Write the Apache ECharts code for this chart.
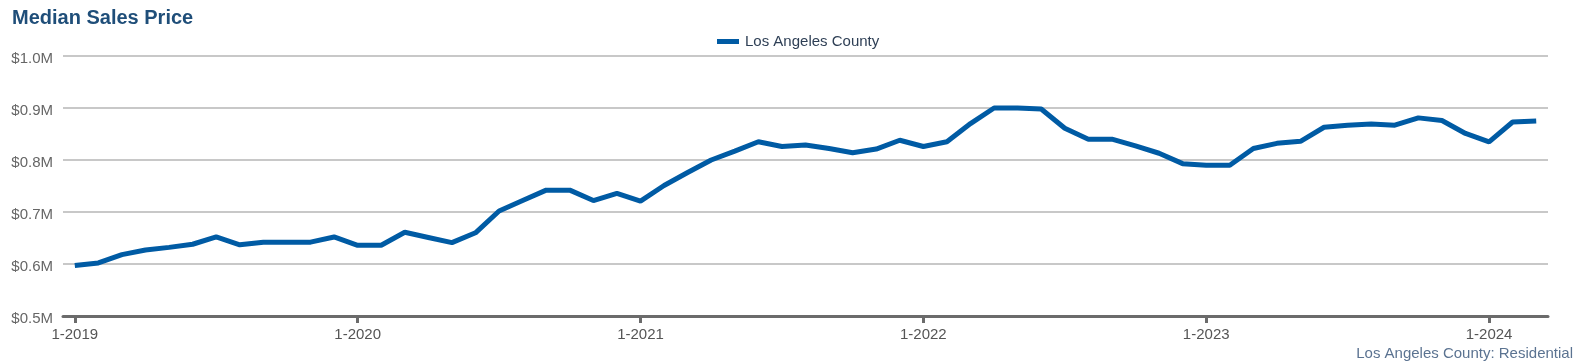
<!DOCTYPE html>
<html>
<head>
<meta charset="utf-8">
<script src="https://cdn.jsdelivr.net/npm/echarts@6/dist/echarts.min.js"></script>
<style>
html,body{margin:0;padding:0;background:#fff;}
#chart{width:1578px;height:363px;}
</style>
</head>
<body>
<div id="chart"></div>
<script>
const startYear = 2019;
const months = [];
for (let i = 0; i < 63; i++) {
  const y = startYear + Math.floor(i / 12);
  const m = (i % 12) + 1;
  months.push(m + '-' + y);
}
// Median sales price, millions of dollars
const medianPrice = [
  0.597, 0.602, 0.618, 0.627, 0.632, 0.638, 0.652, 0.637, 0.642, 0.642, 0.642, 0.652,
  0.636, 0.636, 0.661, 0.651, 0.641, 0.660, 0.702, 0.722, 0.742, 0.742, 0.722, 0.736,
  0.721, 0.751, 0.776, 0.800, 0.817, 0.835, 0.826, 0.829, 0.822, 0.814, 0.821, 0.838,
  0.826, 0.835, 0.870, 0.900, 0.900, 0.898, 0.861, 0.840, 0.840, 0.827, 0.813, 0.793,
  0.790, 0.790, 0.822, 0.832, 0.836, 0.863, 0.867, 0.869, 0.867, 0.881, 0.876, 0.851,
  0.835, 0.873, 0.875
];
const seriesName = 'Los Angeles County';
const titleText = 'Median Sales Price';
const footnote = 'Los Angeles County: Residential';
const FONT = 'Liberation Sans, Arial, sans-serif';

const chart = echarts.init(document.getElementById('chart'), null, {renderer: 'canvas'});
chart.setOption({
  animation: false,
  textStyle: {fontFamily: FONT},
  title: [{
    text: titleText,
    left: 7, top: 3,
    textStyle: {fontSize: 20, fontWeight: 'bold', color: '#1f4e79', fontFamily: FONT}
  }, {
    text: footnote,
    right: 0, bottom: -3,
    textStyle: {fontSize: 15, fontWeight: 'normal', color: '#5b7391', fontFamily: FONT}
  }],
  legend: {
    data: [seriesName],
    top: 29, left: 712,
    icon: 'rect', itemWidth: 22, itemHeight: 5, itemGap: 10,
    textStyle: {fontSize: 15, color: '#2e3f55', fontFamily: FONT, padding: [0, 0, 0, 1]}
  },
  grid: {left: 63, right: 30, top: 56, bottom: 47, containLabel: false},
  xAxis: {
    type: 'category',
    data: months,
    boundaryGap: true,
    axisLine: {show: true, lineStyle: {color: '#6b6b6b', width: 3}},
    axisTick: {show: true, alignWithLabel: true, interval: 11, length: 7, lineStyle: {color: '#6b6b6b', width: 3}},
    axisLabel: {interval: 11, color: '#555', fontSize: 15, margin: 11},
    splitLine: {show: false}
  },
  yAxis: {
    type: 'value',
    min: 0.5, max: 1.0, interval: 0.1,
    axisLine: {show: false},
    axisTick: {show: false},
    axisLabel: {color: '#666', fontSize: 15, margin: 10, verticalAlign: 'top', lineHeight: 6, formatter: v => '$' + v.toFixed(1) + 'M'},
    splitLine: {lineStyle: {color: '#c8c8c8', width: 2}}
  },
  series: [{
    name: seriesName,
    type: 'line',
    data: medianPrice,
    showSymbol: false,
    symbol: 'none',
    lineStyle: {color: '#005ba4', width: 5},
    itemStyle: {color: '#005ba4'}
  }]
});
</script>
</body>
</html>
